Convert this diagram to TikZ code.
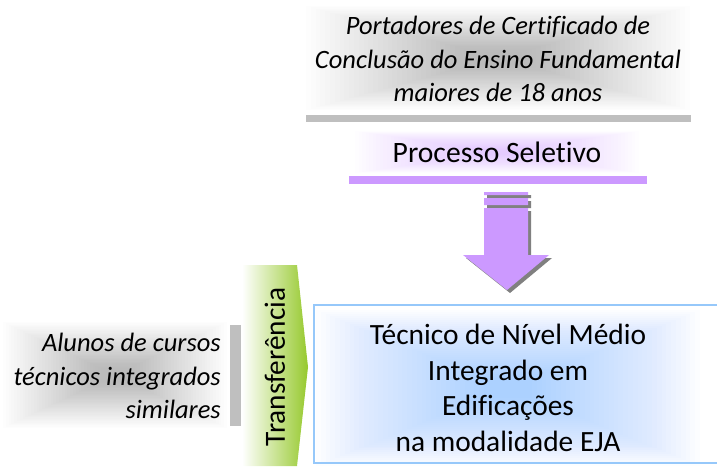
\documentclass[tikz,border=0pt]{standalone}
\usepackage{fontspec}
\setmainfont{Carlito}[Ligatures=NoCommon]
\usetikzlibrary{calc}
\definecolor{barGray}{RGB}{191,191,191}
\definecolor{lilac}{RGB}{204,153,255}
\definecolor{shadowGray}{RGB}{128,128,128}
\definecolor{leafGreen}{RGB}{150,201,45}
\definecolor{skyBorder}{RGB}{150,200,250}
\definecolor{skyGlow}{RGB}{120,185,255}
\newcommand{\softglow}[6]{%
  \foreach \i in {0,...,35}{%
    \fill[#5, fill opacity=#6]
      ({#1-#3*(1-\i/40)},{#2-#4*(1-\i/40)}) rectangle ({#1+#3*(1-\i/40)},{#2+#4*(1-\i/40)});
  }%
}
\newcommand{\downarrowpath}[1]{%
  ($(#1)+(-23,0)$) rectangle ($(#1)+(21,3)$)
  ($(#1)+(-23,6)$) rectangle ($(#1)+(21,13)$)
  ($(#1)+(-23,16)$) -- ($(#1)+(21,16)$) -- ($(#1)+(21,63)$) -- ($(#1)+(42,63)$) -- ($(#1)+(0,98)$) -- ($(#1)+(-44,63)$) -- ($(#1)+(-23,63)$) -- cycle}
\tikzset{
  italictext/.style={font=\fontsize{26.5}{33.5}\selectfont\itshape, inner sep=0pt},
  boxtext/.style={font=\fontsize{29.4}{35.5}\selectfont, inner sep=0pt, align=center},
}
\begin{document}
\begin{tikzpicture}[x=1pt,y=-1pt]
\useasboundingbox (0,0) rectangle (717,466);
% glows
\softglow{498}{58}{192}{52}{black}{0.0065}
\softglow{497}{152}{142}{21}{lilac}{0.02}
\softglow{115}{375}{112}{53}{black}{0.0065}
% top text and bar
\node[italictext, align=center] (portadores) at (498,59) {Portadores de Certificado de\\Conclusão do Ensino Fundamental\\maiores de 18 anos};
\fill[barGray] (306,115) rectangle (691,122);
% processo seletivo
\node[font=\fontsize{29.6}{32}\selectfont, inner sep=0pt] (processo) at (497,152) {Processo Seletivo};
\fill[lilac] (349,176) rectangle (647,184);
% down arrow with shadow
\coordinate (arrtop) at (507,192);
\coordinate (arrshadow) at (510,195);
\fill[shadowGray] \downarrowpath{arrshadow};
\fill[lilac] \downarrowpath{arrtop};
% left text and bar
\node[italictext, align=right, anchor=east] (alunos) at (221,376) {Alunos de cursos\\técnicos integrados\\similares};
\fill[barGray] (230,325) rectangle (241,426);
% chevron
\shade[left color=white, right color=leafGreen] (242,265) -- (297,265) -- (308,367) -- (297,466) -- (242,466) -- cycle;
\node[rotate=90, font=\fontsize{29.3}{32}\selectfont, inner sep=0pt] (transf) at (275,367) {Transferência};
% target box
\fill[white] (314,305) rectangle (720,463);
\softglow{508}{388}{192}{78}{skyGlow}{0.018}
\draw[skyBorder, line width=1.6pt] (314,305) rectangle (720,463);
\node[boxtext] (tecnico) at (508,388) {Técnico de Nível Médio\\Integrado em\\Edificações\\na modalidade EJA};
\end{tikzpicture}
\end{document}
